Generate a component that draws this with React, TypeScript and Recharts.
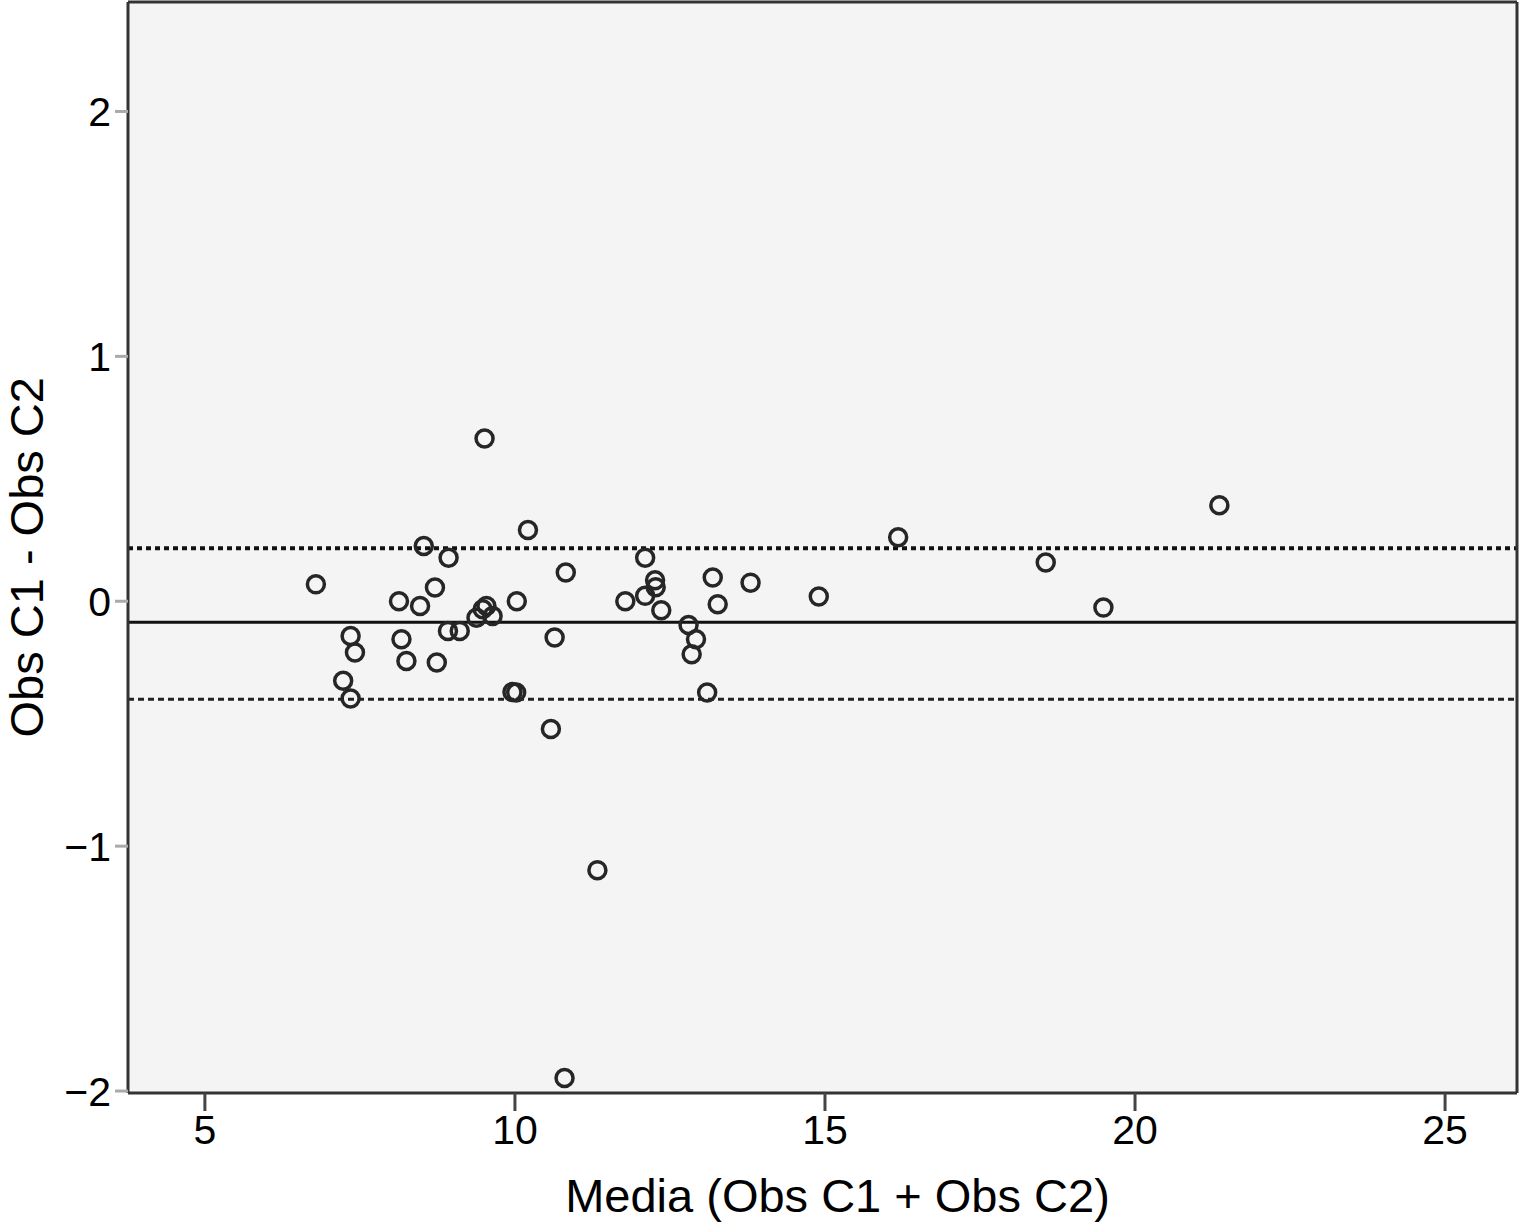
import React from 'react';
import {
  ScatterChart,
  Scatter,
  XAxis,
  YAxis,
  CartesianGrid,
  ReferenceLine,
} from 'recharts';

// Media (Obs C1 + Obs C2)
const mediaValues = [
  6.79, 7.35, 7.42, 7.23, 7.35, 8.13, 8.17, 8.25, 8.47, 8.53, 8.71, 8.74,
  8.93, 8.92, 9.11, 9.51, 9.38, 9.48, 9.54, 9.64, 10.03, 9.96, 10.02, 10.21,
  10.64, 10.58, 10.82, 10.8, 11.33, 11.78, 12.1, 12.1, 12.26, 12.27, 12.36,
  12.8, 12.92, 12.85, 13.1, 13.19, 13.27, 13.8, 14.9, 16.18, 18.56, 19.49,
  21.36,
];

// Obs C1 - Obs C2
const diffValues = [
  0.069, -0.142, -0.209, -0.325, -0.397, 0.0, -0.155, -0.244, -0.019, 0.226,
  0.056, -0.25, 0.178, -0.121, -0.121, 0.665, -0.067, -0.033, -0.019, -0.06,
  0.0, -0.371, -0.373, 0.291, -0.148, -0.522, 0.117, -1.947, -1.098, 0.0,
  0.178, 0.022, 0.086, 0.057, -0.037, -0.097, -0.155, -0.216, -0.373, 0.097,
  -0.012, 0.076, 0.019, 0.261, 0.158, -0.026, 0.392,
];

const xTicks = [5, 10, 15, 20, 25];
const yTicks = [-2, -1, 0, 1, 2];

const meanDiff = -0.086;
const upperLimit = 0.216;
const lowerLimit = -0.4;

const points = mediaValues.map((x, i) => ({ x, y: diffValues[i] }));

const fmt = (v: number) => String(v).replace('-', '\u2212');

const font = '"Liberation Sans", Arial, Helvetica, sans-serif';

const OpenCircle = (props: any) => (
  <circle
    cx={props.cx}
    cy={props.cy}
    r={8.5}
    fill="none"
    stroke="#262626"
    strokeWidth={3.5}
  />
);

export default function App() {
  return (
    <div style={{ position: 'absolute', left: 0, top: 0, fontFamily: font }}>
      <ScatterChart
        width={1521}
        height={1222}
        margin={{ top: 1, right: 3, left: 0, bottom: 0 }}
      >
        <CartesianGrid fill="#f4f4f4" horizontal={false} vertical={false} />
        <XAxis
          type="number"
          dataKey="x"
          domain={[3.76, 26.16]}
          allowDataOverflow
          ticks={xTicks}
          tickFormatter={fmt}
          height={129}
          tickSize={18}
          tickMargin={4}
          stroke="#444"
          axisLine={{ stroke: '#333', strokeWidth: 3 }}
          tickLine={{ stroke: '#444', strokeWidth: 3 }}
          tick={{ fill: '#000', fontSize: 41, fontFamily: font }}
          label={{
            value: 'Media (Obs C1 + Obs C2)',
            position: 'insideBottom',
            offset: 10,
            dx: 15,
            style: { fontSize: 47, fill: '#000', fontFamily: font },
          }}
        />
        <XAxis
          xAxisId="top"
          orientation="top"
          type="number"
          dataKey="x"
          domain={[3.76, 26.16]}
          allowDataOverflow
          height={1}
          tick={false}
          tickLine={false}
          axisLine={{ stroke: '#333', strokeWidth: 3 }}
        />
        <YAxis
          type="number"
          dataKey="y"
          domain={[-2.008, 2.447]}
          allowDataOverflow
          ticks={yTicks}
          tickFormatter={fmt}
          width={128}
          tickSize={13}
          tickMargin={4}
          axisLine={{ stroke: '#333', strokeWidth: 3 }}
          tickLine={{ stroke: '#aaa', strokeWidth: 3 }}
          tick={{ fill: '#000', fontSize: 41, fontFamily: font }}
          label={{
            value: 'Obs C1 - Obs C2',
            angle: -90,
            position: 'insideLeft',
            offset: 26,
            dy: 190,
            style: { fontSize: 47, fill: '#000', fontFamily: font },
          }}
        />
        <YAxis
          yAxisId="right"
          orientation="right"
          type="number"
          dataKey="y"
          domain={[-2.008, 2.447]}
          allowDataOverflow
          width={1}
          tick={false}
          tickLine={false}
          axisLine={{ stroke: '#333', strokeWidth: 3 }}
        />
        <ReferenceLine
          y={upperLimit}
          stroke="#111"
          strokeWidth={4}
          strokeDasharray="5 4"
        />
        <ReferenceLine y={meanDiff} stroke="#111" strokeWidth={3} />
        <ReferenceLine
          y={lowerLimit}
          stroke="#222"
          strokeWidth={3}
          strokeDasharray="6 4"
        />
        <Scatter
          data={points}
          shape={OpenCircle}
          isAnimationActive={false}
        />
      </ScatterChart>
    </div>
  );
}
